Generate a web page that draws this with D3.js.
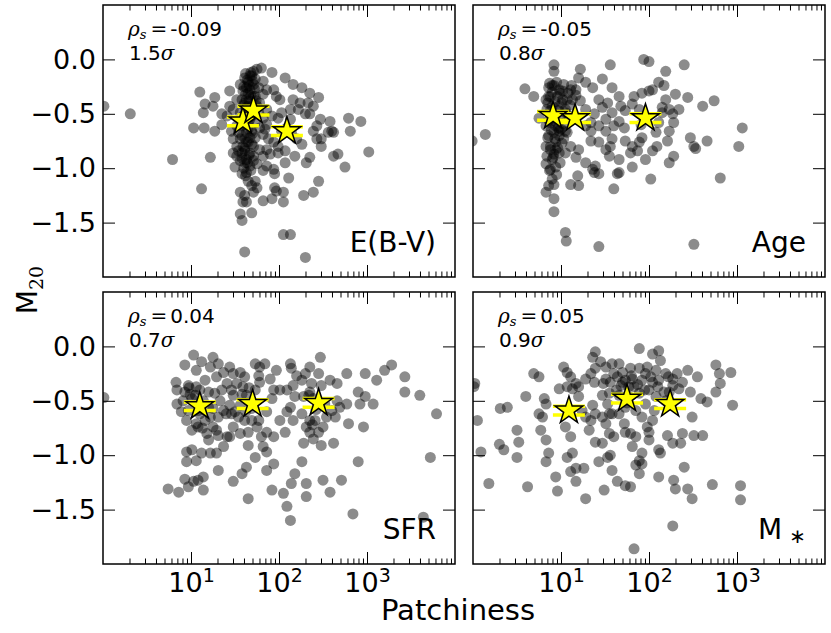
<!DOCTYPE HTML>
<html>
  <head>
    <meta charset="utf-8">
    <script src="https://d3js.org/d3.v7.min.js"></script>
    <style>
      body, html {
        margin: 0;
        background: #fff;
      }
      svg {
        display: block;
        font-family: 'DejaVu Sans', sans-serif;
      }
      .frame {
        fill: none;
        stroke: #000;
        stroke-width: 1.5px;
      }
      .pt {
        fill: #000;
        fill-opacity: 0.45;
      }
      .err line {
        stroke: #ffff00;
        stroke-width: 3.5px;
      }
      .star {
        fill: #ffff00;
        stroke: #000;
        stroke-width: 1.5px;
      }
      .tick line {
        stroke: #000;
        stroke-width: 1px;
      }
      .math {
        font-family: 'DejaVu Serif', serif;
        font-style: italic;
      }
      .mathr {
        font-family: 'DejaVu Serif', serif;
      }
    </style>
  </head>
  <body>
    <svg id="chart" width="831" height="633"></svg>
    <script>
      // each point: [log10(Patchiness), M20]
      var ebvData = [
        [0.01,-0.43],[0.31,-0.50],[0.79,-0.92],[1.12,-1.19],[1.10,-0.30],[1.03,-0.63],[1.15,-0.63],[1.14,-0.49],[1.16,-0.41],[1.25,-0.43],
        [1.27,-0.35],[1.22,-0.90],[1.27,-0.66],[1.35,-0.50],[1.44,-0.29],[1.48,-0.46],[1.56,-0.23],[1.61,-1.77],[1.58,-1.48],[1.56,-1.42],
        [1.59,-1.31],[1.56,-1.22],[1.63,-1.31],[1.69,-1.41],[1.71,-1.22],[1.75,-1.18],[1.73,-1.12],[1.63,-1.04],[1.50,-0.99],[1.58,-1.05],
        [1.63,-0.92],[1.61,-0.84],[1.52,-0.80],[1.48,-0.73],[1.56,-0.73],[1.54,-0.67],[1.52,-0.61],[1.59,-0.52],[1.63,-0.37],[1.65,-0.21],
        [1.67,-0.15],[1.71,-0.11],[1.75,-0.09],[1.80,-0.08],[1.67,-0.28],[1.73,-0.34],[1.78,-0.40],[1.82,-0.20],[1.86,-0.28],[1.92,-0.12],
        [1.94,-0.28],[1.97,-0.34],[2.01,-0.37],[2.07,-0.17],[2.16,-0.23],[2.26,-0.26],[2.35,-0.31],[2.33,-0.40],[2.45,-0.35],[2.47,-0.55],
        [2.43,-0.61],[2.39,-0.66],[2.58,-0.57],[2.60,-0.66],[2.81,-0.66],[2.79,-0.54],[2.93,-0.57],[3.02,-0.85],[2.75,-0.99],[2.67,-0.87],
        [2.62,-0.89],[2.48,-0.80],[2.43,-0.73],[2.35,-0.90],[2.31,-0.95],[2.26,-0.78],[2.20,-0.73],[2.14,-0.67],[2.18,-0.89],[2.07,-0.95],
        [2.07,-0.84],[1.99,-0.80],[1.94,-0.76],[1.88,-0.73],[1.82,-0.69],[1.84,-0.64],[1.78,-0.63],[1.86,-0.83],[1.94,-1.01],[1.95,-1.05],
        [1.82,-1.02],[2.11,-1.09],[1.95,-1.18],[1.97,-1.21],[2.05,-1.22],[1.92,-1.28],[1.82,-1.30],[2.05,-1.31],[2.28,-1.25],[2.39,-1.22],
        [2.45,-1.12],[2.05,-1.61],[2.13,-1.61],[2.30,-1.82],[2.22,-0.46],[2.16,-0.37],[2.13,-0.46],[2.24,-0.40],[2.30,-0.50],[2.13,-0.55],
        [2.03,-0.49],[1.99,-0.54],[1.71,-0.89],[1.75,-0.96],[1.48,-0.86],[1.54,-0.84],[1.65,-0.76],[1.73,-0.72],[1.78,-0.83],[1.82,-0.89],
        [1.90,-0.87],[1.99,-0.86],[1.71,-0.80],[1.69,-0.66],[1.65,-0.58],[1.63,-0.46],[1.61,-0.40],[1.69,-0.43],[1.65,-0.31],[1.59,-0.29],
        [1.71,-0.23],[1.61,-0.17],[1.73,-0.18],[1.77,-0.26],[1.82,-0.32],[1.86,-0.46],[1.92,-0.52],[1.82,-0.54],[1.86,-0.60],[1.77,-0.49],
        [1.52,-0.37],[1.44,-0.43],[1.41,-0.52],[1.35,-0.60],[1.46,-0.66],[1.56,-0.93],[1.67,-0.98],[1.61,-0.95],[1.65,-1.12],[1.69,-1.16],
        [1.61,-1.25],[1.86,-0.98],[2.03,-0.66],[2.09,-0.63],[2.35,-0.50],[2.39,-0.43],[2.56,-0.67],[2.48,-0.73],[2.62,-0.67],
        [1.58,-0.37],[1.65,-0.43],[1.58,-0.61],[1.63,-0.67],[1.59,-0.80],[1.67,-0.86],[1.58,-0.86],[1.69,-0.52],[1.63,-0.26],[1.69,-0.15],
        [1.75,-0.43],[1.52,-0.89],[1.61,-0.73],[1.67,-0.72],[1.71,-0.34],[1.56,-0.49],
        [1.62,-0.13],[1.68,-0.12],[1.64,-0.19],[1.70,-0.20],[1.66,-0.24],[1.60,-0.25],[1.72,-0.27],[1.62,-0.32],[1.68,-0.33],[1.74,-0.38],
        [1.60,-0.42],[1.66,-0.38],[1.71,-0.45],[1.62,-0.49],[1.67,-0.55],[1.73,-0.58],[1.60,-0.60],[1.65,-0.64],[1.70,-0.68],[1.58,-0.70],
        [1.63,-0.76],[1.69,-0.78],[1.61,-0.82],[1.66,-0.88],[1.58,-0.91],[1.64,-0.95],[1.71,-0.93],[1.60,-1.00],[1.68,-1.02],[1.62,-1.07]
      ];
      var ageData = [
        [-0.01,-0.75],[0.14,-0.69],[0.59,-0.27],[0.69,-0.34],[0.75,-0.54],[0.92,-0.05],[0.92,-0.11],[0.86,-0.26],[0.92,-0.24],[0.98,-0.28],
        [0.83,-0.37],[0.88,-0.34],[0.96,-0.34],[1.02,-0.37],[0.84,-0.46],[0.90,-0.43],[0.98,-0.43],[1.05,-0.46],[0.83,-0.61],[0.88,-0.58],
        [0.94,-0.61],[1.00,-0.64],[0.86,-0.70],[0.92,-0.67],[0.98,-0.70],[1.03,-0.73],[0.83,-0.80],[0.88,-0.80],[0.94,-0.76],[0.84,-0.89],
        [0.92,-0.87],[0.98,-0.86],[0.83,-0.96],[0.88,-1.01],[0.94,-0.99],[0.90,-1.10],[0.86,-1.16],[0.92,-1.15],[0.83,-1.22],[0.92,-1.28],
        [0.92,-1.40],[1.05,-1.59],[1.06,-1.67],[1.11,-1.15],[1.20,-1.16],[1.19,-1.07],[1.28,-0.95],[1.17,-0.90],[1.20,-0.83],[1.11,-0.80],
        [1.05,-0.86],[1.22,-0.09],[1.20,-0.17],[1.28,-0.21],[1.17,-0.28],[1.11,-0.28],[1.13,-0.37],[1.22,-0.38],[1.28,-0.46],[1.36,-0.26],
        [1.43,-0.37],[1.47,-0.18],[1.56,-0.05],[1.58,-0.26],[1.66,-0.34],[1.53,-0.40],[1.47,-0.44],[1.38,-0.50],[1.34,-0.58],[1.28,-0.61],
        [1.34,-0.66],[1.43,-0.61],[1.51,-0.55],[1.58,-0.49],[1.68,-0.43],[1.73,-0.47],[1.66,-0.57],[1.72,-0.63],[1.60,-0.61],[1.51,-0.66],
        [1.43,-0.76],[1.34,-0.75],[1.36,-1.01],[1.38,-1.04],[1.43,-1.05],[1.39,-0.98],[1.56,-0.80],[1.55,-0.89],[1.66,-0.92],[1.66,-1.04],
        [1.64,-1.05],[1.60,-1.19],[1.81,-0.99],[1.81,-0.80],[1.79,-0.86],[1.89,-0.76],[1.92,-0.72],[1.96,-0.92],[2.02,-1.10],[2.04,-0.84],
        [2.09,-0.80],[1.91,-0.60],[1.94,0.00],[2.00,-0.02],[2.04,-0.28],[2.00,-0.29],[1.92,-0.31],[1.83,-0.34],[1.81,-0.41],[1.89,-0.46],
        [2.11,-0.21],[2.17,-0.24],[2.19,-0.11],[2.19,-0.37],[2.23,-0.46],[2.15,-0.44],[2.30,-0.32],[2.27,-0.50],[2.28,-0.58],[2.34,-0.46],
        [2.44,-0.35],[2.40,-0.05],[2.61,-0.43],[2.74,-0.38],[2.23,-0.66],[2.21,-0.75],[2.28,-0.89],[2.23,-0.95],[2.47,-0.72],[2.53,-0.82],
        [2.51,-0.80],[2.66,-0.75],[2.81,-1.09],[2.51,-1.70],[1.43,-1.72],[3.06,-0.63],[3.02,-0.80],[2.08,-0.67],[2.11,-0.58],[2.15,-0.49],
        [1.58,-0.73],[1.73,-0.75],[1.87,-0.84],[1.51,-0.83],
        [0.86,-0.34],[0.94,-0.51],[1.00,-0.52],[0.88,-0.51],[0.94,-0.83],[0.90,-0.92],[0.98,-0.66],[0.90,-0.24],[1.02,-0.29],[1.07,-0.37],
        [1.09,-0.52],[1.07,-0.67],
        [0.87,-0.22],[0.95,-0.21],[1.03,-0.23],[1.12,-0.24],[0.90,-0.30],[0.99,-0.31],[1.08,-0.31],[1.17,-0.33],[0.85,-0.40],[0.93,-0.39],
        [1.01,-0.40],[1.10,-0.42],[0.88,-0.47],[0.97,-0.47],[1.05,-0.49],[0.86,-0.56],[0.94,-0.57],[1.02,-0.59],[0.89,-0.65],[0.97,-0.63],
        [1.05,-0.66],[0.85,-0.72],[0.93,-0.73],[1.01,-0.77],[0.88,-0.83],[0.96,-0.81],[0.91,-0.90],[0.99,-0.95],[0.87,-1.02],[0.95,-1.06]
      ];
      var sfrData = [
        [0.01,-0.47],[0.74,-1.31],[0.86,-1.34],[0.93,-1.22],[0.97,-1.29],[1.03,-1.24],[1.08,-1.23],[1.14,-1.32],[1.14,-1.20],[0.95,-1.06],
        [1.06,-1.05],[1.01,-0.95],[0.95,-0.97],[1.12,-0.98],[1.20,-0.86],[1.22,-0.98],[1.29,-0.98],[1.31,-1.14],[0.83,-0.33],[0.93,-0.42],
        [0.84,-0.53],[0.89,-0.60],[0.95,-0.68],[1.03,-0.08],[0.93,-0.17],[0.97,-0.36],[1.06,-0.22],[1.12,-0.14],[1.16,-0.31],[1.10,-0.40],
        [1.08,-0.74],[1.06,-0.71],[1.14,-0.50],[1.20,-0.56],[1.22,-0.65],[1.25,-0.74],[1.29,-0.77],[1.31,-0.82],[1.41,-0.83],[1.37,-0.92],
        [1.25,-0.10],[1.31,-0.16],[1.22,-0.19],[1.29,-0.28],[1.37,-0.24],[1.44,-0.19],[1.48,-0.25],[1.56,-0.24],[1.61,-0.28],[1.41,-0.34],
        [1.35,-0.40],[1.46,-0.40],[1.48,-0.45],[1.52,-0.34],[1.59,-0.37],[1.63,-0.45],[1.44,-0.54],[1.37,-0.59],[1.31,-0.65],[1.46,-0.62],
        [1.54,-0.65],[1.48,-0.74],[1.44,-0.83],[1.61,-0.68],[1.65,-0.79],[1.69,-0.68],[1.69,-0.57],[1.65,-0.91],[1.73,-1.02],[1.63,-1.11],
        [1.58,-1.17],[1.48,-1.24],[1.65,-1.40],[1.75,-0.74],[1.80,-0.83],[1.86,-0.79],[1.82,-0.92],[1.86,-0.97],[1.94,-1.08],[1.86,-1.14],
        [1.92,-1.32],[2.05,-1.35],[2.09,-1.47],[2.13,-1.60],[2.14,-1.26],[2.18,-1.17],[2.26,-1.06],[2.28,-0.89],[2.31,-1.26],[2.31,-1.38],
        [2.35,-0.79],[2.41,-0.68],[2.45,-0.79],[2.39,-0.85],[2.48,-0.91],[2.50,-0.74],[2.54,-0.65],[2.60,-0.59],[2.62,-0.89],[2.50,-1.23],
        [2.58,-1.34],[2.71,-1.23],[2.79,-0.71],[2.84,-1.54],[2.90,-1.06],[2.96,-0.74],[2.90,-0.42],[2.92,-0.53],[2.98,-0.46],[3.07,-0.53],
        [2.98,-0.25],[3.11,-0.31],[3.20,-0.22],[3.28,-0.17],[3.43,-0.28],[3.43,-0.42],[3.60,-0.45],[3.79,-0.62],[3.72,-1.02],[3.64,-1.57],
        [2.77,-0.53],[2.77,-0.25],[2.66,-0.34],[2.58,-0.31],[2.48,-0.36],[2.45,-0.25],[2.47,-0.10],[2.37,-0.34],[2.35,-0.42],[2.39,-0.48],
        [2.26,-0.31],[2.20,-0.27],[2.14,-0.20],[2.13,-0.16],[2.13,-0.56],[2.09,-0.60],[2.16,-0.68],[1.97,-0.22],[1.90,-0.30],[1.84,-0.16],
        [1.78,-0.19],[1.73,-0.16],[1.77,-0.27],[1.78,-0.33],[1.73,-0.40],[1.94,-0.40],[2.01,-0.40],[1.92,-0.48],[1.86,-0.60],[1.77,-0.68],
        [1.01,-0.48],[1.06,-0.37],[1.01,-0.77],[1.08,-0.59],[0.97,-0.59],[0.91,-0.50],[0.84,-0.40],[1.20,-0.42],[1.27,-0.43],[1.33,-0.50],
        [2.09,-0.40],[2.16,-0.36],[2.18,-0.46],[2.28,-0.46],[2.26,-0.62],[2.31,-0.74],[2.35,-0.68],[2.47,-0.51],[2.52,-0.53],[2.66,-0.50],
        [2.64,-0.65],[2.69,-0.56],[2.35,-0.19],[2.30,-0.25],[1.25,-0.57],[1.16,-0.68],[1.56,-0.80],[1.56,-0.54],[2.01,-0.68],[2.07,-0.79],
        [1.94,-0.83],[0.99,-0.44],[1.10,-0.62],
        [0.98,-0.38],[1.05,-0.45],[1.13,-0.75],[1.18,-0.80],[1.40,-0.62],[1.50,-0.60],[1.58,-0.44],[1.66,-0.38],[1.62,-0.60],[2.34,-0.45],
        [2.38,-0.72],[2.42,-0.58]
      ];
      var massData = [
        [0.01,-0.37],[0.02,-0.34],[0.05,-0.68],[0.09,-0.97],[0.18,-1.26],[0.30,-0.90],[0.35,-0.95],[0.31,-0.57],[0.39,-0.56],[0.50,-0.77],
        [0.52,-0.88],[0.50,-1.02],[0.60,-0.46],[0.62,-1.29],[0.69,-0.25],[0.75,-0.28],[0.75,-0.62],[0.77,-0.77],[0.79,-0.65],[0.81,-0.48],
        [0.83,-0.53],[0.83,-0.86],[0.86,-0.98],[0.83,-1.06],[0.94,-1.20],[0.96,-1.33],[1.03,-0.19],[0.98,-0.39],[1.07,-0.24],[1.11,-0.28],
        [1.07,-0.37],[1.13,-0.39],[1.17,-0.34],[1.20,-0.37],[1.05,-0.74],[1.11,-0.83],[1.07,-1.02],[1.13,-0.98],[1.11,-1.15],[1.17,-1.12],
        [1.17,-1.24],[1.26,-1.12],[1.28,-1.40],[1.32,-0.77],[1.34,-0.68],[1.28,-0.65],[1.20,-0.46],[1.24,-0.59],[1.36,-0.54],[1.39,-0.62],
        [1.39,-0.88],[1.47,-0.89],[1.43,-1.06],[1.49,-1.32],[1.53,-1.02],[1.56,-1.00],[1.58,-1.14],[1.55,-0.80],[1.60,-0.83],[1.51,-0.71],
        [1.47,-0.65],[1.28,-0.30],[1.34,-0.25],[1.38,-0.33],[1.39,-0.20],[1.36,-0.10],[1.39,-0.05],[1.45,-0.14],[1.51,-0.19],[1.51,-0.30],
        [1.56,-0.33],[1.55,-0.43],[1.47,-0.45],[1.53,-0.53],[1.55,-0.62],[1.58,-0.16],[1.66,-0.16],[1.70,-0.24],[1.64,-0.28],[1.68,-0.36],
        [1.73,-0.31],[1.66,-0.45],[1.79,-0.20],[1.81,-0.30],[1.77,-0.37],[1.83,-0.37],[1.89,-0.02],[1.89,-0.20],[1.92,-0.31],[1.96,-0.25],
        [1.98,-0.19],[2.04,-0.07],[2.11,-0.04],[2.13,-0.13],[2.08,-0.22],[2.04,-0.33],[2.11,-0.31],[2.19,-0.25],[2.32,-0.25],[2.38,-0.33],
        [2.27,-0.36],[2.23,-0.42],[2.34,-0.39],[2.44,-0.22],[2.55,-0.28],[2.47,-0.42],[2.59,-0.48],[2.66,-0.51],[2.76,-0.17],[2.80,-0.25],
        [2.81,-0.34],[2.76,-0.42],[2.93,-0.24],[2.95,-0.54],[2.49,-0.65],[2.51,-0.82],[2.61,-0.82],[2.38,-0.80],[2.36,-0.89],[2.27,-0.89],
        [2.21,-0.82],[2.11,-0.95],[2.13,-0.98],[2.00,-0.86],[2.00,-0.79],[2.04,-0.68],[1.92,-0.65],[1.98,-0.74],[1.85,-0.83],[1.79,-0.80],
        [1.81,-0.92],[1.89,-1.05],[1.92,-1.08],[1.85,-1.09],[1.89,-1.17],[1.79,-1.29],[1.73,-1.28],[1.64,-1.24],[2.11,-1.20],[2.28,-1.23],
        [2.30,-1.31],[2.40,-1.11],[2.44,-1.31],[2.49,-1.40],[2.72,-1.27],[3.04,-1.28],[3.04,-1.41],[2.27,-1.65],[1.83,-1.86],[1.72,-0.71],
        [1.73,-0.79],[1.66,-0.62],[1.73,-0.56],[1.85,-0.59],[1.96,-0.53],[2.08,-0.46],[2.19,-0.50],[1.89,-0.43],
        [1.77,-0.46],[2.00,-0.40],[2.27,-0.30],[1.58,-0.62],[1.92,-0.98],[2.06,-0.59],
        [1.60,-0.25],[1.70,-0.33],[1.80,-0.27],[1.87,-0.35],[1.95,-0.40],[2.02,-0.28],[2.10,-0.37],[2.17,-0.42],[1.63,-0.40],[1.75,-0.52],
        [2.22,-0.28],[1.48,-0.34]
      ];

      // binned medians (stars): [log10(Patchiness), M20]
      var ebvStars = [[1.59,-0.57],[1.71,-0.47],[2.09,-0.66]];
      var ageStars = [[0.91,-0.52],[1.16,-0.54],[1.96,-0.54]];
      var sfrStars = [[1.10,-0.55],[1.70,-0.53],[2.45,-0.52]];
      var massStars = [[1.09,-0.59],[1.75,-0.48],[2.24,-0.53]];
      var starErr = 0.04;

      var panelNames = ["E(B-V)", "Age", "SFR", "M"];
      var panelSubs = ["", "", "", "\u2217"];
      var rhoValues = ["-0.09", "-0.05", "0.04", "0.05"];
      var sigmaValues = ["1.5", "0.8", "0.7", "0.9"];

      var xDomain = [1, 1e4];
      var yDomain = [-2, 0.5];
      var xMajor = [10, 100, 1000];
      var yMajor = [0, -0.5, -1, -1.5];

      var panelPoints = [ebvData, ageData, sfrData, massData];
      var panelStars = [ebvStars, ageStars, sfrStars, massStars];

      var colX = [103, 473], rowY = [5, 292];
      var pw = 352, ph = 272;
      var capSize = 16;

      var svg = d3.select("#chart");
      var defs = svg.append("defs");
      var fmtY = d3.format(".1f");
      var xMinor = d3.scaleLog().domain(xDomain).ticks().filter(function (d) {
        var l = Math.log10(d);
        return Math.abs(l - Math.round(l)) > 1e-9;
      });

      function styleAxis(g) {
        g.select(".domain").remove();
        g.selectAll("text")
          .attr("font-size", 27)
          .attr("font-family", "'DejaVu Sans', sans-serif")
          .attr("fill", "#000");
      }

      panelNames.forEach(function (name, i) {
        var col = i % 2, row = Math.floor(i / 2);
        var x0 = colX[col], y0 = rowY[row];
        var x = d3.scaleLog().domain(xDomain).range([x0, x0 + pw]);
        var y = d3.scaleLinear().domain(yDomain).range([y0 + ph, y0]);
        var g = svg.append("g");

        defs.append("clipPath").attr("id", "clip" + i)
          .append("rect").attr("x", x0).attr("y", y0).attr("width", pw).attr("height", ph);

        g.append("g")
          .attr("clip-path", "url(#clip" + i + ")")
          .selectAll("circle")
          .data(panelPoints[i])
          .join("circle")
            .attr("class", "pt")
            .attr("cx", d => x(10 ** d[0]))
            .attr("cy", d => y(d[1]))
            .attr("r", 5.5);

        // error bars of the stars: caps drawn at +/- starErr
        var err = g.append("g").attr("class", "err");
        panelStars[i].forEach(function (s) {
          var cx = x(10 ** s[0]);
          err.append("line")
            .attr("x1", cx).attr("x2", cx)
            .attr("y1", y(s[1] + starErr)).attr("y2", y(s[1] - starErr));
          [s[1] + starErr, s[1] - starErr].forEach(function (v) {
            err.append("line")
              .attr("x1", cx - capSize).attr("x2", cx + capSize)
              .attr("y1", y(v)).attr("y2", y(v));
          });
        });

        g.selectAll("path.star")
          .data(panelStars[i])
          .join("path")
            .attr("class", "star")
            .attr("d", d3.symbol(d3.symbolStar, 236))
            .attr("transform", d => "translate(" + x(10 ** d[0]) + "," + y(d[1]) + ")");

        // ticks on all four sides, pointing inward
        var bottom = g.append("g").attr("transform", "translate(0," + (y0 + ph) + ")")
          .call(d3.axisBottom(x).tickValues(xMajor).tickSizeInner(-12).tickSizeOuter(0).tickPadding(9)
            .tickFormat(row === 1 ? (d => d) : ""));
        styleAxis(bottom);
        if (row === 1) {
          bottom.selectAll(".tick text").each(function (d) {
            var t = d3.select(this);
            t.text(null);
            t.append("tspan").text("10");
            t.append("tspan").attr("dy", "-10px").attr("font-size", 19).text(Math.round(Math.log10(d)));
          });
        }
        g.append("g").attr("transform", "translate(0," + (y0 + ph) + ")")
          .call(d3.axisBottom(x).tickValues(xMinor).tickSizeInner(-5.5).tickSizeOuter(0).tickFormat(""))
          .call(styleAxis);
        g.append("g").attr("transform", "translate(0," + y0 + ")")
          .call(d3.axisTop(x).tickValues(xMajor).tickSizeInner(-12).tickSizeOuter(0).tickFormat(""))
          .call(styleAxis);
        g.append("g").attr("transform", "translate(0," + y0 + ")")
          .call(d3.axisTop(x).tickValues(xMinor).tickSizeInner(-5.5).tickSizeOuter(0).tickFormat(""))
          .call(styleAxis);
        g.append("g").attr("transform", "translate(" + x0 + ",0)")
          .call(d3.axisLeft(y).tickValues(yMajor).tickSizeInner(-12).tickSizeOuter(0).tickPadding(7)
            .tickFormat(col === 0 ? fmtY : ""))
          .call(styleAxis);
        g.append("g").attr("transform", "translate(" + (x0 + pw) + ",0)")
          .call(d3.axisRight(y).tickValues(yMajor).tickSizeInner(-12).tickSizeOuter(0).tickFormat(""))
          .call(styleAxis);

        g.append("rect").attr("class", "frame")
          .attr("x", x0).attr("y", y0).attr("width", pw).attr("height", ph);

        // correlation text
        var rho = g.append("text").attr("x", x0 + 25).attr("y", y0 + 31).attr("font-size", 20);
        rho.append("tspan").attr("class", "math").text("\u03c1");
        rho.append("tspan").attr("class", "math").attr("font-size", 13).attr("dy", 3).text("s");
        rho.append("tspan").attr("class", "mathr").attr("dy", -3).attr("dx", 4).text("=");
        rho.append("tspan").attr("dx", 3).text(rhoValues[i]);

        var sig = g.append("text").attr("x", x0 + 26).attr("y", y0 + 55).attr("font-size", 20);
        sig.append("tspan").text(sigmaValues[i]);
        sig.append("tspan").attr("class", "math").text("\u03c3");

        var lab = g.append("text")
          .attr("x", x0 + pw - 19).attr("y", y0 + ph - 25)
          .attr("text-anchor", "end")
          .attr("font-size", 28)
          .text(name);
        if (panelSubs[i]) {
          lab.append("tspan").attr("dx", 7).attr("dy", 4).attr("font-size", 20).text(panelSubs[i]);
        }
      });

      svg.append("text")
        .attr("x", 458).attr("y", 620)
        .attr("text-anchor", "middle")
        .attr("font-size", 29)
        .text("Patchiness");

      var yl = svg.append("text")
        .attr("transform", "translate(37,290) rotate(-90)")
        .attr("text-anchor", "middle")
        .attr("font-size", 28);
      yl.append("tspan").text("M");
      yl.append("tspan").attr("class", "mathr").attr("font-size", 19).attr("dy", 6).text("20");
    </script>
  </body>
</html>
